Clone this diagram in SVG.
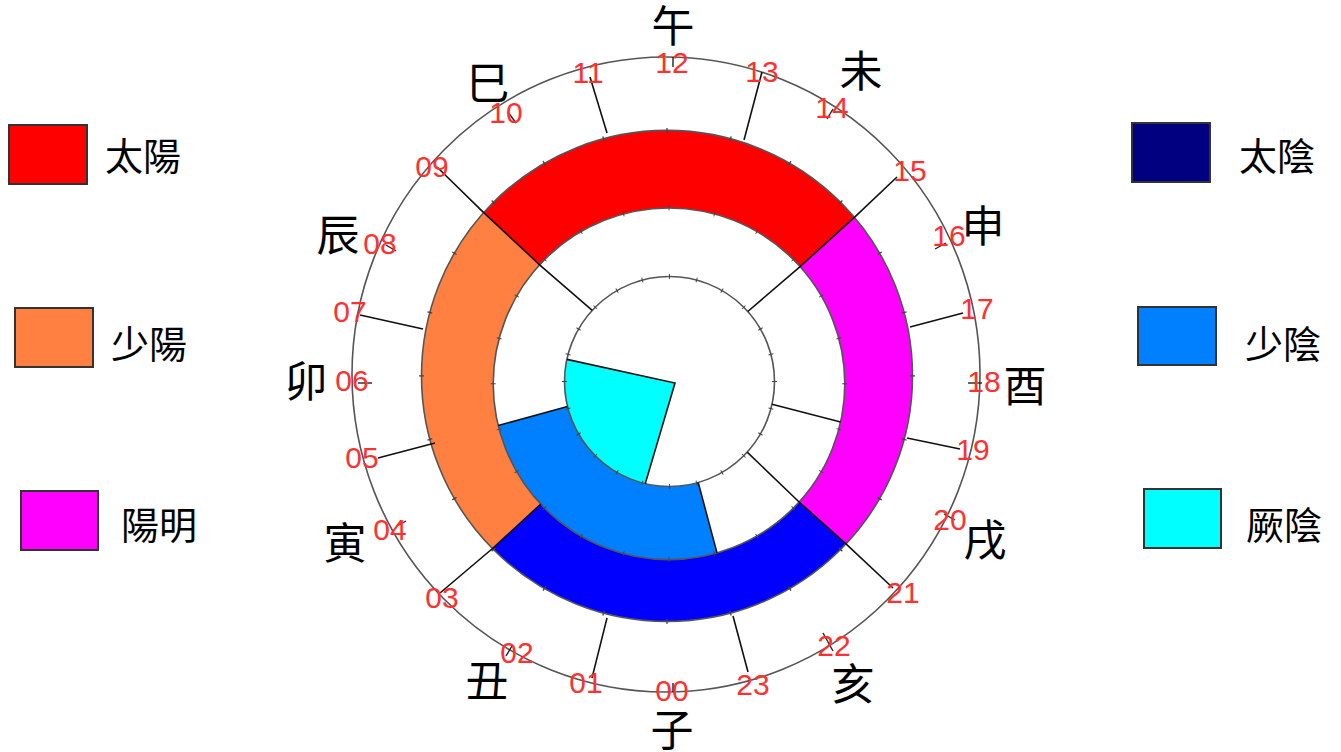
<svg xmlns="http://www.w3.org/2000/svg" width="1341" height="752" viewBox="0 0 1341 752">
<style>
.num{font-family:"Liberation Sans",Arial,sans-serif;font-size:30px;fill:#FF3030;text-anchor:middle}
.zh{font-family:"Noto Sans CJK TC","Noto Sans CJK SC",sans-serif;font-size:43px;fill:#000;text-anchor:middle;dominant-baseline:central}
.leg{font-family:"Noto Sans CJK TC","Noto Sans CJK SC",sans-serif;font-size:38px;fill:#000;dominant-baseline:central}
.box{stroke:#333;stroke-width:2}
.circ{fill:none;stroke:#555;stroke-width:1.6}
.hr{fill:none;stroke:#444;stroke-width:5;stroke-dasharray:0.02 0.98;stroke-dashoffset:0.01}
.ln{fill:none;stroke:#111;stroke-width:1.6}
.tk{stroke:#222;stroke-width:1.4}
</style>

<g id="legend-taiyang"><rect class="box" x="9" y="125" width="78" height="59" fill="#FF0000"/><text class="leg" x="105" y="153">太陽</text></g>
<g id="legend-shaoyang"><rect class="box" x="15" y="308" width="78" height="59" fill="#FF8040"/><text class="leg" x="111" y="341">少陽</text></g>
<g id="legend-yangming"><rect class="box" x="21" y="491" width="77" height="59" fill="#FF00FF"/><text class="leg" x="121" y="522">陽明</text></g>
<g id="legend-taiyin"><rect class="box" x="1132" y="123" width="78" height="59" fill="#000080"/><text class="leg" x="1239" y="153">太陰</text></g>
<g id="legend-shaoyin"><rect class="box" x="1138" y="307" width="78" height="58" fill="#0080FF"/><text class="leg" x="1245" y="341">少陰</text></g>
<g id="legend-jueyin"><rect class="box" x="1144" y="489" width="77" height="59" fill="#00FFFF"/><text class="leg" x="1246" y="522">厥陰</text></g>

<g id="ring-taiyang"><path fill="#FF0000" d="M483.7,212.6 A245.5,245.5 0 0 1 854.4,217.3 L800.1,266.6 A175.8,175.8 0 0 0 539.6,264.8 Z"/></g>
<g id="ring-yangming"><path fill="#FF00FF" d="M854.4,217.3 A245.5,245.5 0 0 1 846,543.9 L799.1,502 A175.8,175.8 0 0 0 800.1,266.6 Z"/></g>
<g id="ring-taiyin"><path fill="#0000FF" d="M846,543.9 A245.5,245.5 0 0 1 492.5,548.5 L540.8,504 A175.8,175.8 0 0 0 799.1,502 Z"/></g>
<g id="ring-shaoyang"><path fill="#FF8040" d="M492.5,548.5 A245.5,245.5 0 0 1 483.7,212.6 L539.6,264.8 A175.8,175.8 0 0 0 540.8,504 Z"/></g>
<g id="ring-shaoyin"><path fill="#0080FF" d="M498.2,425.5 A175.8,175.8 0 0 0 717,552.9 L698.2,482.5 A105,105 0 0 1 567.5,406.4 Z"/></g>
<g id="ring-jueyin"><path fill="#00FFFF" d="M675,383 L566.9,359.4 A105,105 0 0 0 645.3,483.6 Z"/></g>

<g id="circles">
<ellipse class="circ" cx="666" cy="374.5" rx="314" ry="317.5"/>
<circle class="circ" cx="667" cy="375.9" r="245.5"/>
<circle class="circ" cx="669" cy="383.8" r="175.8"/>
<circle class="circ" cx="669.5" cy="381.5" r="105"/>
<circle class="hr" cx="667" cy="375.9" r="245.5" pathLength="24"/>
<circle class="hr" cx="669" cy="383.8" r="175.8" pathLength="24"/>
<circle class="hr" cx="669.5" cy="381.5" r="105" pathLength="24" style="stroke-dasharray:0.035 0.965;stroke-dashoffset:0.0175"/>
</g>

<g id="connectors">
<polyline class="ln" points="437,167 483.7,212.6 539.6,264.8 592.2,310.4"/>
<polyline class="ln" points="897,177 854.4,217.3 800.1,266.6 747.8,311.5"/>
<polyline class="ln" points="893,588 846,543.9 799.1,502 747.2,452.1"/>
<polyline class="ln" points="440,593 492.5,548.5 540.8,504"/>
<line class="ln" x1="607" y1="133" x2="590" y2="77"/>
<line class="ln" x1="744" y1="140" x2="762" y2="72"/>
<line class="ln" x1="910" y1="327" x2="963" y2="313"/>
<line class="ln" x1="907" y1="438" x2="960" y2="449"/>
<line class="ln" x1="840.6" y1="422" x2="772" y2="404.3"/>
<line class="ln" x1="733" y1="616" x2="748" y2="672"/>
<line class="ln" x1="607" y1="618" x2="592" y2="678"/>
<line class="ln" x1="435" y1="443" x2="378" y2="458"/>
<line class="ln" x1="423" y1="329" x2="360" y2="315"/>
<line class="ln" x1="498.2" y1="425.5" x2="567.5" y2="406.4"/>
<line class="ln" x1="717" y1="552.9" x2="698.2" y2="482.5"/>
<polyline class="ln" points="566.9,359.4 675,383 645.3,483.6"/>
<line class="tk" x1="673" y1="57" x2="673" y2="67"/>
<line class="tk" x1="508" y1="112" x2="516" y2="123"/>
<line class="tk" x1="386" y1="245" x2="396" y2="251"/>
<line class="tk" x1="358" y1="383" x2="372" y2="383"/>
<line class="tk" x1="397" y1="526" x2="406" y2="521"/>
<line class="tk" x1="506" y1="656" x2="512" y2="646"/>
<line class="tk" x1="673" y1="683" x2="673" y2="692"/>
<line class="tk" x1="823" y1="633" x2="833" y2="651"/>
<line class="tk" x1="944" y1="514" x2="955" y2="520"/>
<line class="tk" x1="968" y1="383" x2="982" y2="383"/>
<line class="tk" x1="935" y1="249" x2="946" y2="243"/>
<line class="tk" x1="827" y1="119" x2="833" y2="109"/>
</g>

<g id="hour-labels">
<text class="num" x="672" y="73">12</text>
<text class="num" x="588" y="83">11</text>
<text class="num" x="506" y="123">10</text>
<text class="num" x="432" y="177">09</text>
<text class="num" x="380" y="254">08</text>
<text class="num" x="350" y="322">07</text>
<text class="num" x="352" y="391">06</text>
<text class="num" x="362" y="468">05</text>
<text class="num" x="390" y="540">04</text>
<text class="num" x="442" y="608">03</text>
<text class="num" x="517" y="663">02</text>
<text class="num" x="586" y="693">01</text>
<text class="num" x="672" y="701">00</text>
<text class="num" x="753" y="695">23</text>
<text class="num" x="834" y="656">22</text>
<text class="num" x="903" y="603">21</text>
<text class="num" x="950" y="530">20</text>
<text class="num" x="973" y="460">19</text>
<text class="num" x="984" y="392">18</text>
<text class="num" x="977" y="319">17</text>
<text class="num" x="949" y="246">16</text>
<text class="num" x="910" y="181">15</text>
<text class="num" x="832" y="118">14</text>
<text class="num" x="762" y="82">13</text>
</g>

<g id="branch-labels">
<text class="zh" x="673" y="23">午</text>
<text class="zh" x="861" y="68">未</text>
<text class="zh" x="983" y="223">申</text>
<text class="zh" x="1025" y="383">酉</text>
<text class="zh" x="985" y="537">戌</text>
<text class="zh" x="853" y="681">亥</text>
<text class="zh" x="672" y="727">子</text>
<text class="zh" x="487" y="678">丑</text>
<text class="zh" x="345" y="540">寅</text>
<text class="zh" x="306" y="378">卯</text>
<text class="zh" x="338" y="232">辰</text>
<text class="zh" x="488" y="80">巳</text>
</g>
</svg>
